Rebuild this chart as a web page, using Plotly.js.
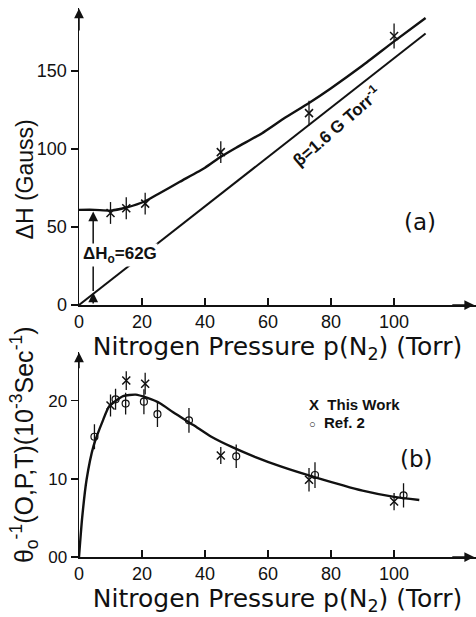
<!DOCTYPE html>
<html>
<head>
<meta charset="utf-8">
<script src="https://cdn.plot.ly/plotly-3.0.1.min.js"></script>
<style>html,body{margin:0;padding:0;background:#fff;}#chart{width:476px;height:617px;}</style>
</head>
<body>
<div id="chart"></div>
<script>
// ---- Panel (a): line width vs nitrogen pressure ----
const aPressure = [10, 15, 21, 45, 73, 100];
const aWidth = [59, 62, 65, 98, 123, 172.5];
const aWidthErr = [7, 7, 7, 7, 8, 8];
const aCurveP = [0, 5, 10, 15, 21, 25, 32, 40, 45, 50, 58, 65, 73, 80, 90, 100, 110];
const aCurveW = [61, 61, 60.5, 62.5, 66.5, 71, 79, 88, 95, 101, 110, 119.5, 129.5, 139, 153.5, 169, 184];
const aLineP = [0, 110];
const aLineW = [0, 174];

// ---- Panel (b): inverse relaxation time vs nitrogen pressure ----
const bThisP = [10, 15, 21, 45, 73, 100];
const bThisV = [19.4, 22.6, 22.2, 13.0, 9.9, 7.1];
const bThisErr = [1.4, 1.2, 1.4, 1.1, 1.5, 1.1];
const bRefP = [4.9, 11.6, 14.8, 20.6, 24.9, 34.9, 49.9, 74.9, 103];
const bRefV = [15.4, 20.2, 19.65, 19.9, 18.3, 17.5, 12.9, 10.5, 7.9];
const bRefErr = [1.6, 1.35, 1.4, 1.6, 1.65, 1.6, 1.5, 1.65, 1.55];
const bCurveP = [0, 1, 2.4, 4.6, 7.7, 9.6, 14, 18, 21.5, 25.7, 30, 36.3, 42, 49, 56, 64, 75, 90, 100, 108];
const bCurveV = [0, 5, 9.9, 14.2, 17.6, 19.3, 20.6, 20.8, 20.4, 19.7, 18.5, 16.9, 15.4, 14.0, 12.8, 11.6, 10.2, 8.5, 7.7, 7.3];

const xTicks = [0, 20, 40, 60, 80, 100];
const aYTicks = [0, 50, 100, 150];
const bYTicks = [0, 10, 20];
const bYTickText = ["00", "10", "20"];

const FONT = "Liberation Sans, Arial, sans-serif";
const WIDE = "DejaVu Sans, Verdana, sans-serif";
const INK = "#111";

const traces = [
  {x: aCurveP, y: aCurveW, xaxis: 'x', yaxis: 'y', mode: 'lines', line: {color: INK, width: 2.4, shape: 'spline', smoothing: 0.5}, hoverinfo: 'skip'},
  {x: aLineP, y: aLineW, xaxis: 'x', yaxis: 'y', mode: 'lines', line: {color: INK, width: 2}, hoverinfo: 'skip'},
  {x: aPressure, y: aWidth, xaxis: 'x', yaxis: 'y', mode: 'markers', name: 'ΔH',
   marker: {symbol: 'x-thin-open', size: 8, color: INK, line: {width: 1.5, color: INK}},
   error_y: {type: 'data', array: aWidthErr, visible: true, width: 0, thickness: 1.3, color: INK}},
  {x: bCurveP, y: bCurveV, xaxis: 'x2', yaxis: 'y2', mode: 'lines', line: {color: INK, width: 2.4, shape: 'spline', smoothing: 0.6}, hoverinfo: 'skip'},
  {x: bThisP, y: bThisV, xaxis: 'x2', yaxis: 'y2', mode: 'markers', name: 'This Work',
   marker: {symbol: 'x-thin-open', size: 8, color: INK, line: {width: 1.5, color: INK}},
   error_y: {type: 'data', array: bThisErr, visible: true, width: 0, thickness: 1.3, color: INK}},
  {x: bRefP, y: bRefV, xaxis: 'x2', yaxis: 'y2', mode: 'markers', name: 'Ref. 2',
   marker: {symbol: 'circle-open', size: 7, color: INK, line: {width: 1.2, color: INK}},
   error_y: {type: 'data', array: bRefErr, visible: true, width: 0, thickness: 1.3, color: INK}}
];

const xTitle = {text: 'Nitrogen Pressure p(N<sub>2</sub>) (Torr)', font: {family: WIDE, size: 25, color: INK}, standoff: 4};
const xCommon = {range: [0, 126], showline: true, linecolor: INK, linewidth: 1.5, ticks: 'inside', ticklen: 7, tickwidth: 1.2, tickcolor: INK,
  tickvals: xTicks, showgrid: false, zeroline: false, tickfont: {family: FONT, size: 18, color: INK}, automargin: false};
const yCommon = {showline: true, linecolor: INK, linewidth: 1.5, ticks: 'outside', ticklen: 7, tickwidth: 1.2, tickcolor: INK,
  showgrid: false, zeroline: false, tickfont: {family: FONT, size: 18, color: INK}, automargin: false};

function arrow(x, y, ax, ay, xr, yr) {
  return {x: x, y: y, ax: ax, ay: ay, xref: xr, yref: yr, axref: xr, ayref: yr, showarrow: true,
    arrowhead: 2, arrowsize: 1.3, arrowwidth: 1.5, arrowcolor: INK, text: ''};
}

const annotations = [
  arrow(0, 190, 0, 175, 'x', 'y'),
  arrow(125.4, 0, 118, 0, 'x', 'y'),
  arrow(0, 26.2, 0, 24, 'x2', 'y2'),
  arrow(125.4, 0, 118, 0, 'x2', 'y2'),
  // ΔH0 marker arrows
  arrow(4.5, 8, 4.5, 0, 'x', 'y'),
  arrow(4.5, 60, 4.5, 8, 'x', 'y'),
  {x: 13, y: 32, xref: 'x', yref: 'y', showarrow: false, text: '<b>ΔH<sub>o</sub>=62G</b>', bgcolor: '#fff', borderpad: 0,
   font: {family: FONT, size: 17, color: INK}},
  {x: 81.5, y: 115, xref: 'x', yref: 'y', showarrow: false, text: '<b>β=1.6 G Torr<sup>-1</sup></b>', textangle: -41,
   font: {family: FONT, size: 17, color: INK}},
  {x: 108.3, y: 53, xref: 'x', yref: 'y', showarrow: false, text: '(a)', font: {family: WIDE, size: 23, color: INK}},
  {x: 107.2, y: 12.5, xref: 'x2', yref: 'y2', showarrow: false, text: '(b)', font: {family: WIDE, size: 23, color: INK}},
  {x: 72.5, y: 19.5, xref: 'x2', yref: 'y2', xanchor: 'left', showarrow: false, text: '<b>X  This Work</b>', font: {family: FONT, size: 15, color: INK}},
  {x: 72.5, y: 17.2, xref: 'x2', yref: 'y2', xanchor: 'left', showarrow: false, text: '<b><span style="font-size:11px">○</span>  Ref. 2</b>', font: {family: FONT, size: 15, color: INK}},
  // y-axis titles
  {x: -0.137, y: 0.687, xref: 'paper', yref: 'paper', xanchor: 'center', yanchor: 'middle', showarrow: false, textangle: -90,
   text: 'ΔH (Gauss)', font: {family: FONT, size: 23, color: INK}},
  {x: -0.137, y: 0.205, xref: 'paper', yref: 'paper', xanchor: 'center', yanchor: 'middle', showarrow: false, textangle: -90,
   text: 'θ<sub>o</sub><sup>-1</sup>(O,P,T)(10<sup>-3</sup>Sec<sup>-1</sup>)', font: {family: FONT, size: 25, color: INK}}
];

const layout = {
  width: 476, height: 617,
  margin: {l: 79, r: 0, t: 8, b: 60},
  paper_bgcolor: '#fff', plot_bgcolor: 'rgba(0,0,0,0)',
  showlegend: false,
  font: {family: FONT, color: INK},
  xaxis: Object.assign({}, xCommon, {anchor: 'y', domain: [0, 1], title: xTitle}),
  yaxis: Object.assign({}, yCommon, {anchor: 'x', domain: [0.459, 1], range: [0, 190.4], tickvals: aYTicks}),
  xaxis2: Object.assign({}, xCommon, {anchor: 'y2', domain: [0, 1], title: xTitle}),
  yaxis2: Object.assign({}, yCommon, {anchor: 'x2', domain: [0, 0.374], range: [0, 26.3], tickvals: bYTicks, ticktext: bYTickText, tickfont: {family: FONT, size: 17, color: INK}}),
  annotations: annotations
};

Plotly.newPlot('chart', traces, layout, {staticPlot: true, displayModeBar: false});
</script>
</body>
</html>
